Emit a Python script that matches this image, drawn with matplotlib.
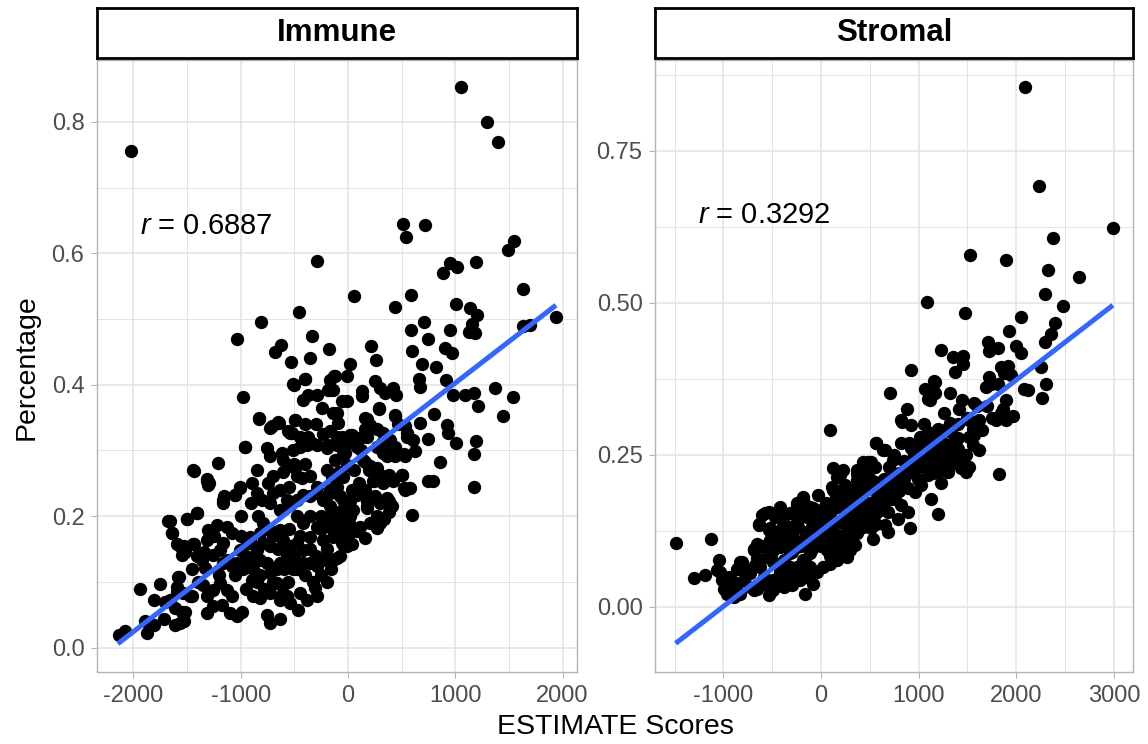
import numpy as np
import matplotlib
matplotlib.use("Agg")
import matplotlib.pyplot as plt
from matplotlib.ticker import FixedLocator

plt.rcParams['font.family'] = ['Liberation Sans', 'DejaVu Sans']
plt.rcParams['mathtext.fontset'] = 'custom'
plt.rcParams['mathtext.it'] = 'Liberation Sans:italic'
plt.rcParams['mathtext.rm'] = 'Liberation Sans'

# ── data (ESTIMATE score, percentage) ──
immune_points = [
    (-2020, 0.756), (1053, 0.853), (1299, 0.800), (1395, 0.769), (-286, 0.588),
    (510, 0.644), (715, 0.643), (543, 0.625), (1547, 0.619), (1488, 0.605), (948, 0.585),
    (1016, 0.579), (883, 0.570), (1196, 0.586), (53, 0.535), (590, 0.536), (435, 0.519),
    (1628, 0.545), (1007, 0.523), (1137, 0.516), (1205, 0.506), (1159, 0.492), (1128, 0.480),
    (1184, 0.478), (1631, 0.490), (1693, 0.491), (1941, 0.503), (708, 0.495), (584, 0.484),
    (951, 0.483), (743, 0.469), (214, 0.459), (594, 0.452), (901, 0.456), (972, 0.449),
    (261, 0.437), (16, 0.432), (692, 0.432), (820, 0.427),
    (-454, 0.511), (-811, 0.495), (-1035, 0.470), (-335, 0.474), (-174, 0.454), (-627, 0.461),
    (-683, 0.450), (-534, 0.435), (-357, 0.440),
    (-128, 0.413), (-12, 0.414), (665, 0.409), (674, 0.397), (913, 0.407), (252, 0.405),
    (298, 0.395), (345, 0.387), (133, 0.391), (133, 0.383), (422, 0.395), (447, 0.385),
    (1373, 0.395), (1090, 0.384), (1174, 0.387), (979, 0.385), (1538, 0.382), (1215, 0.367),
    (1448, 0.352), (802, 0.356), (-53, 0.375), (-12, 0.375), (-168, 0.392), (-137, 0.357),
    (-90, 0.342), (292, 0.363), (438, 0.353), (469, 0.341), (180, 0.348), (205, 0.338),
    (-168, 0.329), (671, 0.342), (920, 0.339), (935, 0.327), (1004, 0.312), (1190, 0.315),
    (1174, 0.294), (1178, 0.245), (861, 0.282), (748, 0.317), (748, 0.253), (795, 0.253),
    (594, 0.202), (547, 0.327), (608, 0.316), (624, 0.299), (329, 0.327), (391, 0.316),
    (34, 0.324), (81, 0.316), (158, 0.332), (174, 0.321), (438, 0.306), (531, 0.291),
    (267, 0.306), (329, 0.296), (-105, 0.309), (-28, 0.296), (-121, 0.286), (143, 0.286),
    (205, 0.276), (267, 0.274), (361, 0.261), (500, 0.263), (422, 0.253), (531, 0.240),
    (578, 0.243), (34, 0.240), (81, 0.233), (158, 0.240), (236, 0.253), (329, 0.250),
    (361, 0.228), (407, 0.215), (267, 0.200), (298, 0.190), (174, 0.215), (-44, 0.225),
    (19, 0.200), (112, 0.184), (205, 0.190), (-168, 0.240), (-168, 0.215), (-105, 0.205),
    (-168, 0.184), (271, 0.182), (333, 0.195), (379, 0.207), (379, 0.223), (161, 0.167),
    (84, 0.177), (37, 0.157), (-40, 0.154), (-103, 0.136), (566, 0.243), (519, 0.243),
    (503, 0.263), (379, 0.263), (177, 0.223), (177, 0.212), (240, 0.253), (301, 0.263),
    (22, 0.223), (-40, 0.212), (-72, 0.197), (22, 0.187), (286, 0.365), (441, 0.354),
    (534, 0.337), (550, 0.321), (426, 0.294), (363, 0.291), (161, 0.349), (193, 0.339),
    (270, 0.332), (317, 0.311), (379, 0.299), (22, 0.324), (130, 0.321), (84, 0.306),
    (161, 0.283), (-40, 0.299), (-9, 0.278), (-87, 0.268), (519, 0.294), (441, 0.291),
    (-510, 0.401), (-401, 0.409), (-976, 0.381), (-417, 0.377), (-370, 0.385), (-292, 0.385),
    (-245, 0.364), (-168, 0.407), (-121, 0.413), (-184, 0.392), (-137, 0.392), (-105, 0.357),
    (-59, 0.321), (-829, 0.348), (-711, 0.337), (-649, 0.344), (-556, 0.329), (-494, 0.347),
    (-525, 0.327), (-370, 0.321), (-339, 0.311), (-230, 0.325), (-184, 0.309), (-960, 0.306),
    (-758, 0.304), (-727, 0.291), (-618, 0.296), (-603, 0.286), (-510, 0.301), (-447, 0.306),
    (-385, 0.309), (-292, 0.309), (-199, 0.304), (-44, 0.294), (-12, 0.311), (-1209, 0.281),
    (-1442, 0.270), (-1317, 0.253), (-1302, 0.248), (-1007, 0.245), (-1053, 0.233),
    (-1162, 0.225), (-1162, 0.220), (-898, 0.250), (-851, 0.235), (-804, 0.225), (-696, 0.261),
    (-603, 0.268), (-572, 0.276), (-494, 0.273), (-478, 0.261), (-432, 0.258), (-354, 0.261),
    (-292, 0.245), (-696, 0.235), (-634, 0.240), (-727, 0.220), (-572, 0.225), (-634, 0.210),
    (-541, 0.217), (-478, 0.225), (-417, 0.233), (-354, 0.230), (-292, 0.235), (-230, 0.225),
    (-168, 0.235), (-105, 0.245), (-75, 0.230), (-28, 0.223), (-835, 0.200), (-1504, 0.195),
    (-1410, 0.205), (-1659, 0.192), (-1643, 0.174), (-1302, 0.179), (-1224, 0.187),
    (-1317, 0.164), (-1131, 0.184), (-1084, 0.174), (-1162, 0.159), (-1566, 0.154),
    (-1519, 0.146), (-1442, 0.157), (-1410, 0.139), (-1364, 0.134), (-1333, 0.121),
    (-1255, 0.141), (-1193, 0.149), (-1162, 0.129), (-1115, 0.134), (-1084, 0.124),
    (-1007, 0.149), (-944, 0.159), (-851, 0.149), (-913, 0.134), (-820, 0.134), (-1037, 0.129),
    (-976, 0.119), (-882, 0.119), (-820, 0.111), (-898, 0.103), (-758, 0.129), (-727, 0.114),
    (-665, 0.119), (-634, 0.129), (-572, 0.139), (-541, 0.129), (-478, 0.119), (-417, 0.129),
    (-354, 0.129), (-292, 0.124), (-230, 0.134), (-137, 0.134), (-75, 0.139), (-12, 0.154),
    (-199, 0.195), (-105, 0.190), (-44, 0.182), (-478, 0.200), (-417, 0.190), (-292, 0.184),
    (-354, 0.169), (-230, 0.164), (-137, 0.169), (-634, 0.179), (-603, 0.164), (-541, 0.154),
    (-478, 0.159), (-417, 0.149), (-727, 0.179), (-789, 0.159), (-727, 0.154), (-913, 0.169),
    (-820, 0.174), (-1581, 0.108), (-1597, 0.093), (-1535, 0.083), (-1473, 0.078),
    (-1659, 0.073), (-1550, 0.055), (-1566, 0.038), (-1612, 0.035), (-1348, 0.096),
    (-1317, 0.078), (-1255, 0.088), (-1193, 0.098), (-1131, 0.088), (-1084, 0.078),
    (-1317, 0.053), (-1255, 0.063), (-1177, 0.065), (-1100, 0.053), (-1037, 0.048),
    (-991, 0.055), (-882, 0.078), (-820, 0.076), (-727, 0.083), (-665, 0.098), (-603, 0.083),
    (-634, 0.073), (-758, 0.050), (-727, 0.038), (-634, 0.043), (-572, 0.078), (-447, 0.083),
    (-385, 0.073), (-292, 0.078), (-308, 0.091), (-199, 0.100), (-541, 0.068), (-463, 0.058),
    (-510, 0.119), (-2137, 0.019), (-2075, 0.026), (-1873, 0.022), (-1889, 0.040),
    (-1811, 0.034), (-1718, 0.043), (-1941, 0.090), (-1755, 0.097), (-1811, 0.073),
    (-1703, 0.069), (-1609, 0.060), (-1531, 0.040), (-1516, 0.055), (-1454, 0.078),
    (-1594, 0.085), (-1578, 0.108), (-1675, 0.192), (-1640, 0.174), (-1500, 0.196),
    (-1407, 0.205), (-1594, 0.157), (-1531, 0.154), (-1547, 0.141), (-1438, 0.157),
    (-1392, 0.139), (-1345, 0.146), (-1438, 0.269), (-1314, 0.256), (-1298, 0.250),
    (-1159, 0.230), (-1050, 0.233), (-1004, 0.243), (-957, 0.306), (-832, 0.349),
    (-724, 0.334), (-646, 0.342), (-538, 0.327), (-491, 0.347), (-506, 0.400), (-398, 0.409),
    # dense core, estimated
    (-950, 0.090), (-900, 0.160), (-850, 0.100), (-790, 0.190), (-700, 0.100), (-700, 0.170),
    (-650, 0.150), (-600, 0.120), (-550, 0.180), (-500, 0.140), (-450, 0.170), (-400, 0.110),
    (-350, 0.150), (-300, 0.140), (-250, 0.180), (-250, 0.110), (-200, 0.150), (-150, 0.210),
    (-100, 0.170), (-50, 0.200), (0, 0.170), (50, 0.210), (100, 0.250), (60, 0.270),
    (120, 0.300), (200, 0.270), (250, 0.230), (300, 0.220), (-1050, 0.110), (-1000, 0.170),
    (-1200, 0.110), (-1250, 0.170), (-1400, 0.100), (-1450, 0.120), (-1000, 0.200),
    (-900, 0.220), (-850, 0.270), (-750, 0.250), (-550, 0.245), (-500, 0.280), (-400, 0.280),
    (-350, 0.200), (-250, 0.200), (-200, 0.270), (-150, 0.260), (-50, 0.260), (-100, 0.320),
    (-300, 0.340), (-400, 0.340), (-450, 0.320), (-950, 0.140), (-780, 0.090), (-560, 0.100),
    (-330, 0.100), (-160, 0.120), (-60, 0.160),
]

stromal_points = [
    (2091, 0.854), (2234, 0.692), (2989, 0.623), (2373, 0.606), (1527, 0.578), (1890, 0.570),
    (2326, 0.553), (2645, 0.543), (2293, 0.514), (1084, 0.501), (2479, 0.495), (1479, 0.483),
    (2053, 0.477), (2393, 0.466), (1925, 0.453), (2353, 0.449), (2293, 0.436), (1707, 0.436),
    (1717, 0.421), (1816, 0.425), (2000, 0.429), (2053, 0.417), (1231, 0.423), (1350, 0.410),
    (1459, 0.412), (1459, 0.400), (918, 0.390), (1843, 0.394), (1911, 0.396), (2254, 0.395),
    (1368, 0.386), (1870, 0.384), (1945, 0.381), (711, 0.351), (1163, 0.370), (1061, 0.359),
    (1112, 0.340), (1163, 0.351), (1326, 0.352), (1724, 0.378), (1741, 0.367), (1690, 0.362),
    (1809, 0.367), (2081, 0.359), (2115, 0.356), (2302, 0.366), (2261, 0.343), (1445, 0.340),
    (1571, 0.335), (1418, 0.326), (884, 0.325), (1255, 0.319), (1894, 0.340), (1860, 0.326),
    (1843, 0.318), (1792, 0.307), (1894, 0.307), (1962, 0.313), (829, 0.304), (925, 0.299),
    (1316, 0.302), (1520, 0.307), (1622, 0.307), (1588, 0.291), (1044, 0.280), (1163, 0.285),
    (1265, 0.291), (1401, 0.277), (1520, 0.280), (1554, 0.266), (1622, 0.258), (561, 0.270),
    (636, 0.258), (738, 0.241), (823, 0.270), (925, 0.261), (1044, 0.252), (1163, 0.258),
    (1316, 0.258), (1418, 0.252), (1452, 0.241), (1112, 0.236), (1214, 0.233), (1350, 0.236),
    (1520, 0.230), (1153, 0.371), (1092, 0.341), (823, 0.307), (1554, 0.293), (1571, 0.282),
    (1486, 0.249), (1384, 0.238), (1435, 0.228), (1486, 0.222), (1826, 0.218), (1333, 0.288),
    (1265, 0.249), (1231, 0.233), (1299, 0.222), (1010, 0.280), (1095, 0.288), (1197, 0.293),
    (993, 0.255), (1061, 0.249), (1129, 0.261), (1197, 0.244), (1129, 0.233), (1197, 0.222),
    (925, 0.228), (1027, 0.233), (1095, 0.217), (993, 0.211), (1231, 0.203), (755, 0.217),
    (823, 0.206), (891, 0.195), (959, 0.189), (1027, 0.200), (1129, 0.178), (1197, 0.152),
    (823, 0.167), (789, 0.145), (891, 0.156), (908, 0.129), (755, 0.178),
    (92, 0.290), (-1122, 0.111), (-1302, 0.047), (-1183, 0.053), (-1048, 0.077), (-1030, 0.058),
    (-997, 0.030), (-826, 0.074), (-775, 0.058), (-691, 0.093), (-656, 0.104), (-928, 0.038),
    (-860, 0.027), (-724, 0.033), (-656, 0.030), (-487, 0.027), (-452, 0.041), (-350, 0.049),
    (-316, 0.066), (-214, 0.055), (-44, 0.058), (-146, 0.069), (-112, 0.088), (92, 0.083),
    (194, 0.088), (262, 0.099), (329, 0.104), (-639, 0.137), (-605, 0.151), (-537, 0.156),
    (-520, 0.129), (-418, 0.148), (-316, 0.132), (-282, 0.115), (-248, 0.154), (-197, 0.164),
    (-180, 0.175), (-146, 0.148), (-78, 0.162), (-27, 0.184), (-452, 0.121), (-520, 0.110),
    (-418, 0.099), (-554, 0.082), (-487, 0.074), (-622, 0.066), (-384, 0.077), (-316, 0.088),
    (-248, 0.099), (-112, 0.126), (-44, 0.115), (23, 0.132), (92, 0.110), (160, 0.099),
    (227, 0.115), (296, 0.126), (364, 0.121), (431, 0.132), (500, 0.143), (568, 0.154),
    (92, 0.154), (160, 0.164), (126, 0.192), (160, 0.214), (126, 0.228), (227, 0.225),
    (364, 0.208), (431, 0.214), (364, 0.225), (500, 0.236), (568, 0.269), (466, 0.197),
    (551, 0.192), (364, 0.175), (296, 0.164), (500, 0.170), (568, 0.175), (364, 0.143),
    (431, 0.154), (500, 0.132), (568, 0.137), (296, 0.143), (262, 0.154), (-248, 0.170),
    (-180, 0.181), (-112, 0.164), (-44, 0.143), (23, 0.110), (58, 0.093), (211, 0.088),
    (-656, 0.080), (-724, 0.055), (-588, 0.049), (-418, 0.058), (-487, 0.044), (-945, 0.049),
    (-894, 0.041), (-792, 0.044), (-996, 0.044), (-1064, 0.060), (-1013, 0.044), (-962, 0.022),
    (-894, 0.016), (-826, 0.022), (-691, 0.027), (-622, 0.036), (-520, 0.033), (-537, 0.019),
    (-384, 0.033), (-299, 0.036), (-214, 0.044), (-146, 0.049), (-163, 0.022), (-78, 0.038),
    (-316, 0.055), (-248, 0.066), (-180, 0.077), (-112, 0.066), (23, 0.066), (92, 0.071),
    (160, 0.077), (262, 0.082), (296, 0.093), (-95, 0.132), (-231, 0.132), (-350, 0.115),
    (-384, 0.137), (-316, 0.154), (-418, 0.164), (-469, 0.148), (517, 0.238), (431, 0.238),
    (364, 0.219), (364, 0.197),
    (-1489, 0.105), (653, 0.258), (483, 0.238), (194, 0.217), (109, 0.197), (-180, 0.177),
    (-248, 0.167), (-214, 0.156), (-571, 0.154), (-639, 0.135), (-537, 0.126), (-401, 0.129),
    (-452, 0.112), (-691, 0.096), (-809, 0.074), (-860, 0.063), (-775, 0.063), (-673, 0.069),
    (-945, 0.036), (-894, 0.025), (347, 0.101), (534, 0.112), (347, 0.121), (517, 0.129),
    (653, 0.134), (687, 0.123), (415, 0.162), (517, 0.167), (619, 0.173), (687, 0.156),
    (721, 0.178), (653, 0.189), (721, 0.200), (687, 0.211), (551, 0.206), (483, 0.228),
    (415, 0.217), (279, 0.178), (347, 0.189), (211, 0.167), (313, 0.156), (415, 0.145),
    (245, 0.140), (143, 0.140), (75, 0.167), (7, 0.151), (75, 0.123), (143, 0.107),
    (-265, 0.129), (-163, 0.112), (-95, 0.096), (-299, 0.090), (-197, 0.069), (-231, 0.058),
    # dense band, estimated
    (-600, 0.100), (-500, 0.090), (-450, 0.070), (-400, 0.120), (-350, 0.100), (-300, 0.120),
    (-250, 0.140), (-200, 0.100), (-150, 0.120), (-100, 0.110), (-50, 0.130), (0, 0.100),
    (0, 0.160), (50, 0.120), (50, 0.170), (100, 0.140), (150, 0.120), (150, 0.180),
    (200, 0.140), (200, 0.190), (250, 0.120), (250, 0.200), (300, 0.150), (300, 0.190),
    (350, 0.160), (400, 0.180), (400, 0.130), (450, 0.170), (450, 0.200), (500, 0.150),
    (500, 0.210), (550, 0.170), (550, 0.230), (600, 0.190), (600, 0.160), (650, 0.210),
    (650, 0.170), (700, 0.190), (700, 0.230), (750, 0.200), (750, 0.250), (800, 0.220),
    (800, 0.190), (850, 0.240), (850, 0.210), (900, 0.230), (900, 0.270), (950, 0.220),
    (950, 0.250), (1000, 0.240), (1000, 0.270), (1050, 0.230), (1050, 0.300), (1100, 0.270),
    (1150, 0.220), (1200, 0.270), (1250, 0.270), (1300, 0.250), (1350, 0.270), (1400, 0.300),
    (1400, 0.260), (1500, 0.310), (1600, 0.330), (1650, 0.290), (1700, 0.330), (1750, 0.310),
]

# fitted lines (end points as drawn)
immune_fit_x = [-2146, 1939]
immune_fit_y = [0.006, 0.521]
stromal_fit_x = [-1489, 2989]
stromal_fit_y = [-0.060, 0.496]

panel_titles = ["Immune", "Stromal"]
r_labels = ["0.6887", "0.3292"]
r_pos = [(-1940, 0.642), (-1255, 0.644)]

immune_xticks = [-2000, -1000, 0, 1000, 2000]
immune_yticks = [0.0, 0.2, 0.4, 0.6, 0.8]
immune_ylabels = ["0.0", "0.2", "0.4", "0.6", "0.8"]
stromal_xticks = [-1000, 0, 1000, 2000, 3000]
stromal_yticks = [0.0, 0.25, 0.50, 0.75]
stromal_ylabels = ["0.00", "0.25", "0.50", "0.75"]

GRID = "#e3e3e3"
BORDER = "#b3b3b3"
TICKTXT = "#4d4d4d"
BLUE = "#3366ff"

fig = plt.figure(figsize=(11.48, 7.44), dpi=100)

W, H = 1148, 744
panels = [
    dict(box=(97, 60, 577, 672), pts=immune_points, fx=immune_fit_x, fy=immune_fit_y,
         xlim=(-2340, 2135), ylim=(-0.037, 0.894),
         xt=immune_xticks, yt=immune_yticks, yl=immune_ylabels,
         xminor=[-1500, -500, 500, 1500], yminor=[0.1, 0.3, 0.5, 0.7]),
    dict(box=(655, 60, 1133, 672), pts=stromal_points, fx=stromal_fit_x, fy=stromal_fit_y,
         xlim=(-1700, 3195), ylim=(-0.107, 0.899),
         xt=stromal_xticks, yt=stromal_yticks, yl=stromal_ylabels,
         xminor=[-1500, -500, 500, 1500, 2500], yminor=[0.125, 0.375, 0.625, 0.875]),
]

for i, p in enumerate(panels):
    x0, y0, x1, y1 = p["box"]
    ax = fig.add_axes([x0 / W, 1 - y1 / H, (x1 - x0) / W, (y1 - y0) / H])
    pts = np.array(p["pts"])
    ax.scatter(pts[:, 0], pts[:, 1], s=92, color="black", linewidths=0, zorder=3)
    ax.plot(p["fx"], p["fy"], color=BLUE, lw=3.6, solid_capstyle="butt", zorder=4)

    ax.set_xlim(*p["xlim"])
    ax.set_ylim(*p["ylim"])
    ax.set_xticks(p["xt"])
    ax.set_xticklabels([str(v) for v in p["xt"]])
    ax.set_yticks(p["yt"])
    ax.set_yticklabels(p["yl"])
    ax.xaxis.set_minor_locator(FixedLocator(p["xminor"]))
    ax.yaxis.set_minor_locator(FixedLocator(p["yminor"]))
    ax.grid(True, which="major", color=GRID, lw=1.1, zorder=0)
    ax.grid(True, which="minor", color=GRID, lw=0.7, zorder=0)
    ax.set_axisbelow(True)
    ax.tick_params(which="major", length=4, width=0.8, color=BORDER,
                   labelsize=17, labelcolor=TICKTXT, pad=5)
    ax.tick_params(which="minor", length=0)
    for sp in ax.spines.values():
        sp.set_color(BORDER)
        sp.set_linewidth(1.0)

    rx, ry = r_pos[i]
    ax.text(rx, ry, r"$r$ = " + r_labels[i], fontsize=21, ha="left", va="center", zorder=5)

    # strip header
    sax = fig.add_axes([x0 / W, 1 - 58 / H, (x1 - x0) / W, 50 / H])
    sax.set_xticks([])
    sax.set_yticks([])
    for sp in sax.spines.values():
        sp.set_color("black")
        sp.set_linewidth(2.0)
    sax.text(0.5, 0.5, panel_titles[i], transform=sax.transAxes, ha="center", va="center",
             fontsize=22.5, fontweight="bold")

fig.text(27 / W, 1 - 367 / H, "Percentage", rotation=90, ha="center", va="center", fontsize=20.5)
fig.text(615 / W, 1 - 727 / H, "ESTIMATE Scores", ha="center", va="center", fontsize=20.5)

fig.savefig("out.png", dpi=100)
